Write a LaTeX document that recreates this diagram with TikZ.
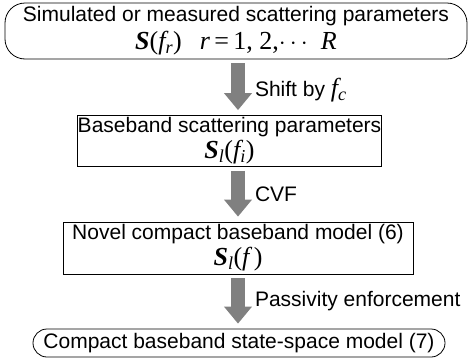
\documentclass[tikz,border=0pt]{standalone}
\usepackage{fontspec}
\setmainfont{Liberation Sans}
\newfontfamily\varfont{Liberation Serif}
\usetikzlibrary{arrows.meta,calc,positioning}
\definecolor{flowgray}{RGB}{128,128,128}
\newcommand{\mvar}[1]{{\varfont\itshape #1}}
\newcommand{\mvec}[1]{{\varfont\bfseries\itshape #1}}
\newcommand{\msub}[1]{\textsubscript{\mvar{#1}}}
\newcommand{\mline}{\fontsize{26}{26}\selectfont\varfont}

\begin{document}
\begin{tikzpicture}[
    x=1pt, y=-1pt,
    font=\fontsize{21}{26}\selectfont,
    stepbox/.style={rectangle, draw, line width=0.8pt, align=center, inner sep=0pt},
    endbox/.style={stepbox, rounded corners=20pt},
    flow/.style={line width=14pt, draw=flowgray, shorten <=4pt, shorten >=5pt,
        -{Triangle[width=27pt,length=17pt]}},
    note/.style={anchor=west, inner sep=0pt, xshift=10pt}
]
\useasboundingbox (0,0) rectangle (469,362);
\coordinate (axis) at (238,0);

% Measured data
\node[endbox, minimum width=462pt, minimum height=56pt] (meas) at (236,31)
    {Simulated or measured scattering parameters\\[2pt]
     {\mline\mvec{S}(\mvar{f}\msub{r})\hspace{0.7em}\mvar{r}\,=\,1, 2,$\cdots$\hspace{0.5em}\mvar{R}}};

% Baseband data
\node[stepbox, minimum width=295pt, minimum height=51pt] (base) at (229.5,141)
    {Baseband scattering parameters\\
     {\mline\mvec{S}\msub{l}(\mvar{f}\msub{i})}};

% Compact model
\node[stepbox, minimum width=350pt, minimum height=52pt] (model) at (238,248)
    {Novel compact baseband model (6)\\
     {\mline\mvec{S}\msub{l}(\mvar{f}\,)}};

% State-space model
\node[endbox, rounded corners=14pt, minimum width=412pt, minimum height=28pt] (ss) at (239,343)
    {Compact baseband state-space model (7)};

% Flow arrows
\draw[flow] (meas.south -| axis) -- (base.north -| axis)
    node[note, midway, yshift=-3pt] {Shift by {\fontsize{26}{26}\selectfont\mvar{f}\msub{c}}};
\draw[flow] (base.south -| axis) -- (model.north -| axis)
    node[note, midway] {CVF};
\draw[flow] (model.south -| axis) -- (ss.north -| axis)
    node[note, midway] {Passivity enforcement};

\end{tikzpicture}
\end{document}
